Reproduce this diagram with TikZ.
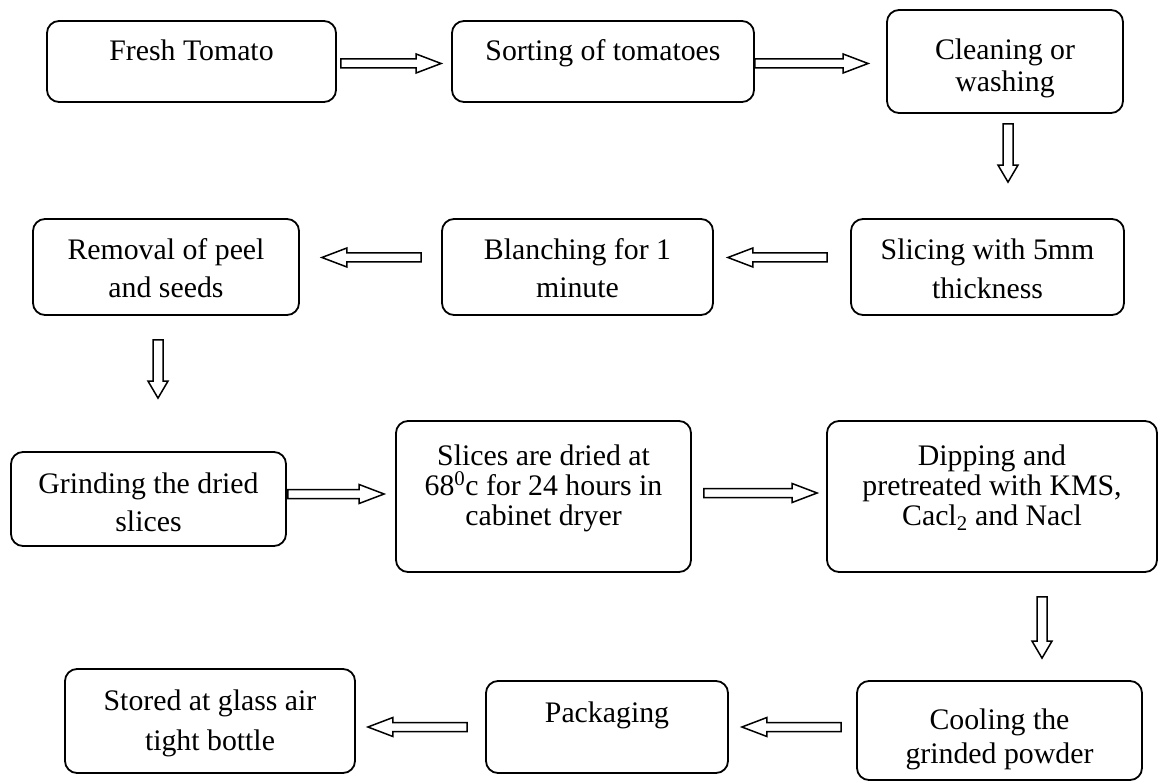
\documentclass[tikz,border=0pt]{standalone}
\usepackage{fontspec}
\setmainfont{Liberation Serif}
\usetikzlibrary{calc}
\tikzset{
  box/.style={draw, line width=1.8pt, rounded corners=12pt, inner sep=0pt},
  txt/.style={anchor=base, inner sep=0pt, font=\fontsize{29.8}{30}\selectfont},
  blk/.style={draw, line width=1.5pt, line join=miter},
  blockto/.style n args={3}{to path={
    ($(\tikztostart)!#1!90:(\tikztotarget)$)
    -- ($(\tikztotarget)!#3!(\tikztostart)!#1!-90:(\tikztostart)$)
    -- ($(\tikztotarget)!#3!(\tikztostart)!#2!-90:(\tikztostart)$)
    -- (\tikztotarget)
    -- ($(\tikztotarget)!#3!(\tikztostart)!#2!90:(\tikztostart)$)
    -- ($(\tikztotarget)!#3!(\tikztostart)!#1!90:(\tikztostart)$)
    -- ($(\tikztostart)!#1!-90:(\tikztotarget)$)
    -- cycle}},
  harrow/.style={blk, blockto={4.5pt}{9.5pt}{25pt}},
  varrow/.style={blk, blockto={5pt}{10pt}{17pt}}
}
\begin{document}
\begin{tikzpicture}[x=1pt, y=-1pt]
\useasboundingbox (0,0) rectangle (1159,783);

% boxes
\node[box, minimum width=289pt, minimum height=81pt]  (fresh)  at (191.5,61.5) {};
\node[box, minimum width=302pt, minimum height=81pt]  (sort)   at (603,61.5) {};
\node[box, minimum width=236pt, minimum height=103pt] (clean)  at (1005,61.5) {};
\node[box, minimum width=273pt, minimum height=96pt]  (slice)  at (987.5,267) {};
\node[box, minimum width=271pt, minimum height=96pt]  (blanch) at (577.5,267) {};
\node[box, minimum width=266pt, minimum height=96pt]  (remove) at (166,267) {};
\node[box, minimum width=275pt, minimum height=94pt]  (grind)  at (148.5,499) {};
\node[box, minimum width=295pt, minimum height=151pt] (slices) at (543.5,496.5) {};
\node[box, minimum width=330pt, minimum height=151pt] (dip)    at (992,496.5) {};
\node[box, minimum width=285pt, minimum height=99pt]  (cool)   at (999.5,730.5) {};
\node[box, minimum width=242pt, minimum height=92pt]  (pack)   at (607,727) {};
\node[box, minimum width=290pt, minimum height=104pt] (store)  at (210,721) {};

% texts
\node[txt] (tfresh)   at (191.5,61) {Fresh Tomato};
\node[txt] (tsort)    at (603,61) {Sorting of tomatoes};
\node[txt] (tclean1)  at (1005,60) {Cleaning or};
\node[txt] (tclean2)  at (1005,92) {washing};
\node[txt] (tslice1)  at (987.5,260) {Slicing with 5mm};
\node[txt] (tslice2)  at (987.5,299) {thickness};
\node[txt] (tblanch1) at (577.5,260) {Blanching for 1};
\node[txt] (tblanch2) at (577.5,298) {minute};
\node[txt] (tremove1) at (166,260) {Removal of peel};
\node[txt] (tremove2) at (166,298) {and seeds};
\node[txt] (tgrind1)  at (148.5,493) {Grinding the dried};
\node[txt] (tgrind2)  at (148.5,531) {slices};
\node[txt] (tslices1) at (543.5,465) {Slices are dried at};
\node[txt] (tslices2) at (543.5,495) {68\textsuperscript{0}c for 24 hours in};
\node[txt] (tslices3) at (543.5,525) {cabinet dryer};
\node[txt] (tdip1)    at (992,465) {Dipping and};
\node[txt] (tdip2)    at (992,495) {pretreated with KMS,};
\node[txt] (tdip3)    at (992,525) {Cacl\textsubscript{2} and Nacl};
\node[txt] (tcool1)   at (999.5,729) {Cooling the};
\node[txt] (tcool2)   at (999.5,763) {grinded powder};
\node[txt] (tpack)    at (607,722) {Packaging};
\node[txt] (tstore1)  at (210,710) {Stored at glass air};
\node[txt] (tstore2)  at (210,750) {tight bottle};

% arrow end points
\coordinate (a1s) at ($(fresh.east)+(4,2)$);
\coordinate (a1e) at ($(sort.west)+(-10,2)$);
\coordinate (a2s) at ($(sort.east)+(0,2)$);
\coordinate (a2e) at ($(clean.west)+(-18,2)$);
\coordinate (a3s) at ($(clean.south)+(3,10)$);
\coordinate (a3e) at ($(slice.north)+(20.5,-36)$);
\coordinate (a4s) at ($(slice.west)+(-23,-9.5)$);
\coordinate (a4e) at ($(blanch.east)+(14,-9.5)$);
\coordinate (a5s) at ($(blanch.west)+(-20,-9.5)$);
\coordinate (a5e) at ($(remove.east)+(22,-9.5)$);
\coordinate (a6s) at ($(remove.south)+(-8,24)$);
\coordinate (a6e) at ($(grind.north)+(9.5,-53)$);
\coordinate (a7s) at ($(grind.east)+(1,-5)$);
\coordinate (a7e) at ($(slices.west)+(-11,-2.5)$);
\coordinate (a8s) at ($(slices.east)+(12,-3.5)$);
\coordinate (a8e) at ($(dip.west)+(-9,-3.5)$);
\coordinate (a9s) at ($(dip.south)+(50,24)$);
\coordinate (a9e) at ($(cool.north)+(42.5,-22)$);
\coordinate (a10s) at ($(cool.west)+(-15,-3.5)$);
\coordinate (a10e) at ($(pack.east)+(13,0)$);
\coordinate (a11s) at ($(pack.west)+(-18,0)$);
\coordinate (a11e) at ($(store.east)+(12,6)$);

% arrows
\draw[harrow] (a1s) to (a1e);
\draw[harrow] (a2s) to (a2e);
\draw[varrow] (a3s) to (a3e);
\draw[harrow] (a4s) to (a4e);
\draw[harrow] (a5s) to (a5e);
\draw[varrow] (a6s) to (a6e);
\draw[harrow] (a7s) to (a7e);
\draw[harrow] (a8s) to (a8e);
\draw[varrow] (a9s) to (a9e);
\draw[harrow] (a10s) to (a10e);
\draw[harrow] (a11s) to (a11e);
\end{tikzpicture}
\end{document}
